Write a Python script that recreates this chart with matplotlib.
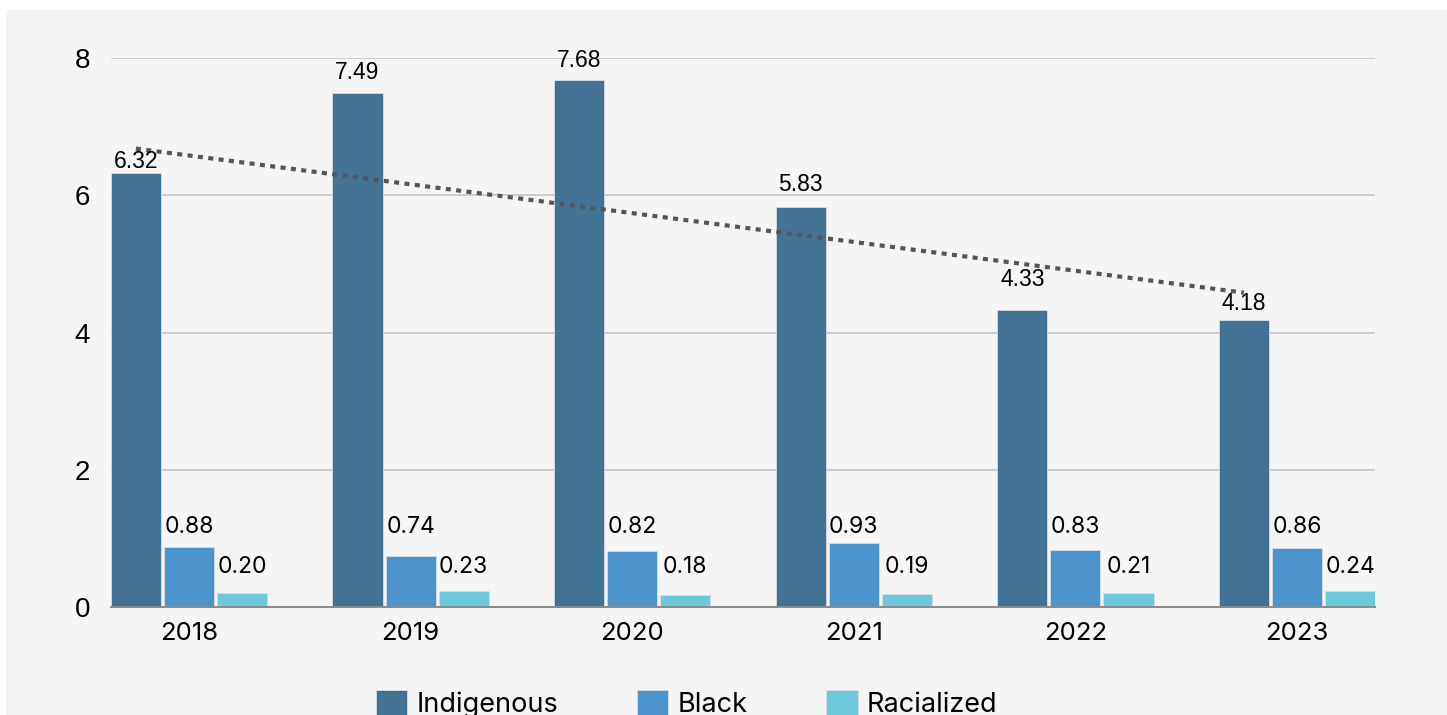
import numpy as np
import matplotlib.pyplot as plt
from matplotlib.patches import Rectangle

# data
years = ['2018', '2019', '2020', '2021', '2022', '2023']
indigenous = [6.32, 7.49, 7.68, 5.83, 4.33, 4.18]
black = [0.88, 0.74, 0.82, 0.93, 0.83, 0.86]
racialized = [0.20, 0.23, 0.18, 0.19, 0.21, 0.24]
trend_ends = [6.68, 4.58]  # dotted trend line, first and last year

series_names = ['Indigenous', 'Black', 'Racialized']
colors = ['#427294', '#4a93cc', '#6bc9db']

# label nudges above the Indigenous bars (points)
ind_label_pad = [8.6, 14.4, 13.7, 15.8, 21.6, 12.2]

W, H = 1447, 715
fig = plt.figure(figsize=(W / 100, H / 100), dpi=100, facecolor='white')
fig.patches.append(Rectangle((6 / W, 0), 1 - 6 / W, 1 - 10 / H, transform=fig.transFigure,
                             facecolor='#f5f5f5', edgecolor='none', zorder=-10))

ax = fig.add_axes([111 / W, 1 - 607 / H, (1375 - 111) / W, (607 - 58) / H])
ax.set_facecolor('none')

x = np.arange(len(years))
width = 0.226
step = 0.2395

bars = []
for i, (vals, col) in enumerate(zip([indigenous, black, racialized], colors)):
    b = ax.bar(x + (i - 1) * step, vals, width, color=col, edgecolor='#d8dde2',
               linewidth=0.6, zorder=3, label=series_names[i])
    bars.append(b)

# trend line over the Indigenous bars
ax.plot([x[0] - step, x[-1] - step], trend_ends, color='#555555', lw=3,
        linestyle=(0, (1.2, 1.3)), zorder=4)

# value labels
for xi, v, pad in zip(x, indigenous, ind_label_pad):
    ax.annotate(f'{v:.2f}', (xi - step, v), xytext=(0, pad), textcoords='offset points',
                ha='center', va='center', fontsize=16.5, family='Liberation Sans', zorder=5)
for xi, v in zip(x, black):
    ax.annotate(f'{v:.2f}', (xi, 0), xytext=(0, 57.6), textcoords='offset points',
                ha='center', va='center', fontsize=16.5, family='Inter', zorder=5)
for xi, v in zip(x, racialized):
    ax.annotate(f'{v:.2f}', (xi + step, 0), xytext=(0, 28.8), textcoords='offset points',
                ha='center', va='center', fontsize=16.5, family='Inter', zorder=5)

ax.set_xlim(-0.352, len(years) - 1 + 0.352)
ax.set_ylim(0, 8)
ax.set_yticks([0, 2, 4, 6, 8])
ax.set_xticks(x)
ax.set_xticklabels(years, fontsize=18.5, family='Inter')
for lbl in ax.get_yticklabels():
    lbl.set_fontsize(20)
    lbl.set_family('Liberation Sans')
ax.tick_params(axis='y', length=0, pad=15)
ax.tick_params(axis='x', length=0, pad=11)

ax.grid(axis='y', color='#c8c8c8', lw=1.3, zorder=0)
for s in ['top', 'right', 'left']:
    ax.spines[s].set_visible(False)
ax.spines['bottom'].set_color('#8a8a8a')
ax.spines['bottom'].set_linewidth(1.4)
ax.spines['bottom'].set_zorder(4)

leg = fig.legend(handles=bars, labels=series_names, loc='center', ncol=3,
                 bbox_to_anchor=(687 / W, 1 - 704 / H), frameon=False,
                 prop={'family': 'Inter', 'size': 19.5}, handlelength=1.15, handleheight=1.15,
                 handletextpad=0.35, columnspacing=2.9, borderpad=0)
for h in leg.legend_handles:
    h.set_edgecolor('#d8dde2')

fig.savefig('out.png', dpi=100, facecolor='white')
